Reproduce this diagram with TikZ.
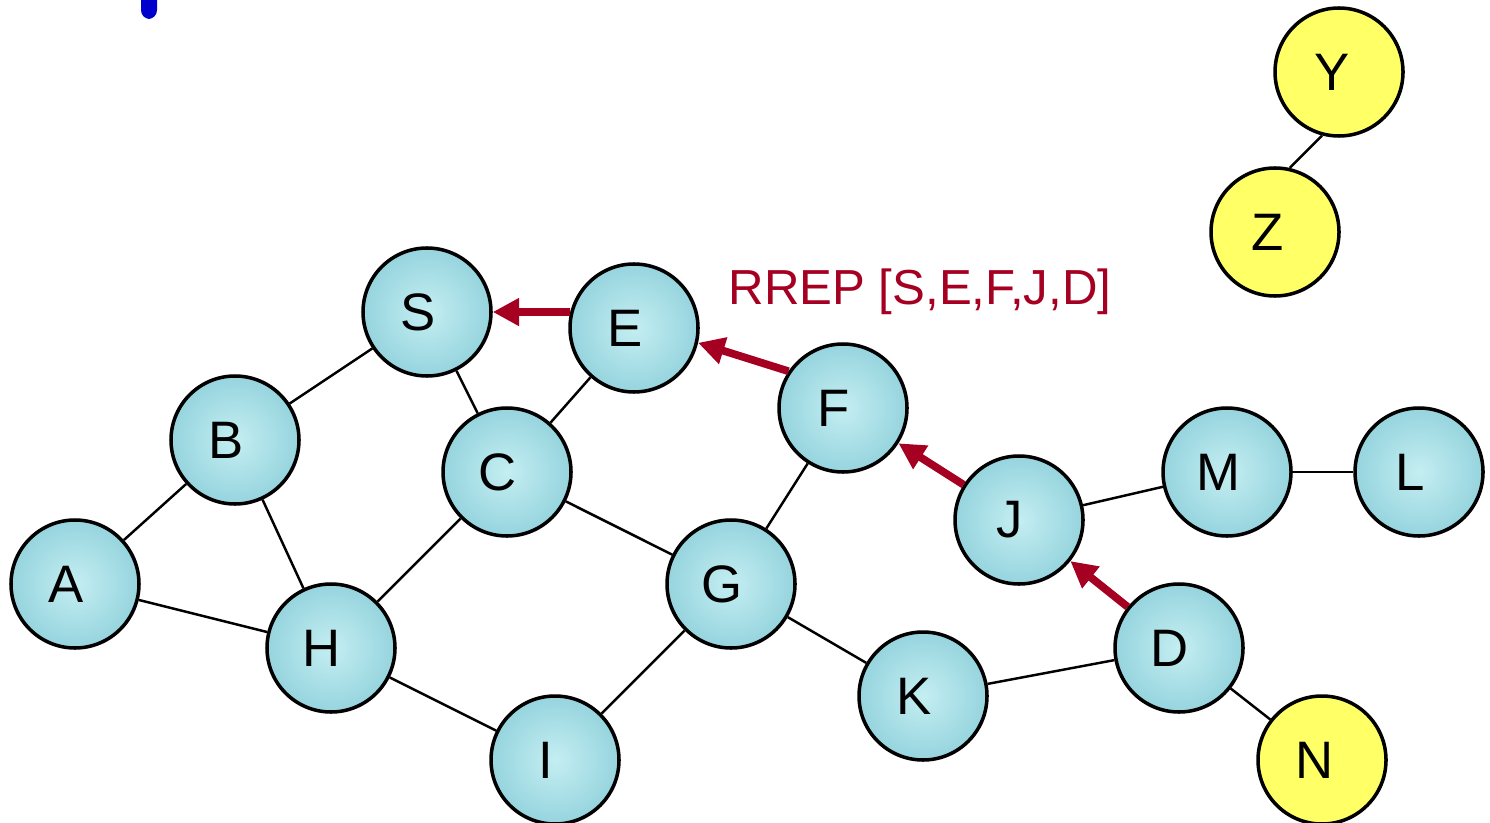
\documentclass[tikz,border=0pt]{standalone}
\usepackage{fontspec}
\setmainfont{Liberation Sans}
\usepackage{xcolor}
\usepackage{tikz}

\definecolor{drop}{RGB}{196,238,242}
\definecolor{dropdark}{RGB}{150,212,222}
\definecolor{ball}{RGB}{255,255,102}
\definecolor{rrepred}{RGB}{165,0,33}
\definecolor{markblue}{RGB}{0,0,204}

\tikzset{
    dropnode/.style={circle, draw=black, line width=1pt, minimum size=1.28cm, inner sep=0pt,
        inner color=drop, outer color=dropdark,
        label={[font=\fontsize{15}{17}\selectfont, xshift=-0.09cm]center:#1}},
    ballnode/.style={circle, draw=black, line width=1pt, minimum size=1.28cm, inner sep=0pt,
        fill=ball, label={[font=\fontsize{15}{17}\selectfont, xshift=-0.07cm]center:#1}},
    link/.style={line width=0.7pt},
    rrep/.style={line width=2.2pt, draw=rrepred, -{Triangle[length=7.5pt,width=7.5pt]}}
}
\usetikzlibrary{arrows.meta}

\begin{document}
\begin{tikzpicture}
                \useasboundingbox (0,0) rectangle (14.9,-8.23);
                % Mark top left
                \fill[markblue, rounded corners=2.5pt] (1.41,0.1) rectangle (1.57,-0.19);
                % Moving nodes
                \foreach \n/\x/\y in {S/4.27/-3.12, E/6.34/-3.28, B/2.35/-4.40, C/5.07/-4.72,
                    F/8.43/-4.08, A/0.75/-5.84, H/3.31/-6.48, G/7.31/-5.84, I/5.55/-7.60,
                    K/9.23/-6.96, J/10.19/-5.20, D/11.79/-6.48, M/12.27/-4.72, L/14.19/-4.72} {
                    \node[dropnode=\n] (\n) at (\x,\y) {};
                }
                % Yellow nodes
                \foreach \n/\x/\y in {Y/13.39/-0.72, Z/12.75/-2.32, N/13.22/-7.60} {
                    \node[ballnode=\n] (\n) at (\x,\y) {};
                }
                % Links
                \foreach \a/\b in {B/S, S/C, C/E, A/B, B/H, A/H, H/C, C/G, G/F, H/I,
                    I/G, G/K, K/D, D/N, J/M, M/L} {
                    \draw[link] (\a) -- (\b);
                }
                \draw[link] (Y.255) -- (Z.77);
                % Route reply
                \draw[rrep] (E.166) -- (S.east);
                \draw[rrep] (F.146) -- (E.-13);
                \draw[rrep] (J) -- (F);
                \draw[rrep] (D) -- (J);
                \node[text=rrepred, font=\fontsize{14}{16}\selectfont] (rreplabel) at (9.2,-2.92) {RREP [S,E,F,J,D]};
            \end{tikzpicture}
\end{document}
